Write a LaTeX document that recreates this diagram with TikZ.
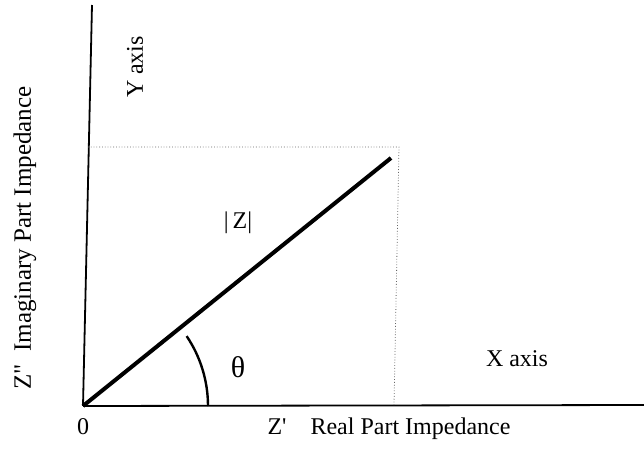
\documentclass[tikz,border=0pt]{standalone}
\usepackage{fontspec}
\setmainfont{Liberation Serif}
\usetikzlibrary{positioning}

\begin{document}
\begin{tikzpicture}[
  x=0.5pt, y=-0.5pt,
  font=\fontsize{12}{14}\selectfont,
  axis/.style={draw, line width=0.9pt},
  vec/.style={draw, line width=2pt},
  guide/.style={draw, densely dotted, line width=0.4pt, black!60},
  lbl/.style={inner sep=1pt}
]
  \useasboundingbox (0,0) rectangle (644,450);

  \coordinate (O) at (83,406);
  \coordinate (ytop) at (92,5);
  \coordinate (xend) at (644,405);
  \coordinate (tip) at (391,158);
  \coordinate (hl) at (88,147);
  \coordinate (corner) at (399,147);
  \coordinate (foot) at (394,406);
  \coordinate (arcstart) at (208,406);

  \draw[axis] (O) -- (ytop);
  \draw[axis] (O) -- (xend);
  \draw[guide] (hl) -- (corner) -- (foot);
  \draw[vec] (O) -- (tip);
  \draw[line width=1.2pt] (arcstart) arc[start angle=0, end angle=34, radius=62.5pt];

  \node[lbl] (zero) at (83,427) {0};
  \node[lbl, rotate=90] (ylab) at (135,67) {Y axis};
  \node[lbl, rotate=90, font=\fontsize{12.5}{14}\selectfont] (zim) at (25,238) {Z\textquotedbl\ \ Imaginary Part Impedance};
  \node[lbl] (zmod) at (238,223) {|\,Z|};
  \node[lbl, font=\fontsize{15}{17}\selectfont] (theta) at (238,367) {θ};
  \node[lbl] (xlab) at (517,359) {X axis};
  \node[lbl] (zre) at (389,429) {Z\textquotesingle\quad Real Part Impedance};
\end{tikzpicture}
\end{document}
